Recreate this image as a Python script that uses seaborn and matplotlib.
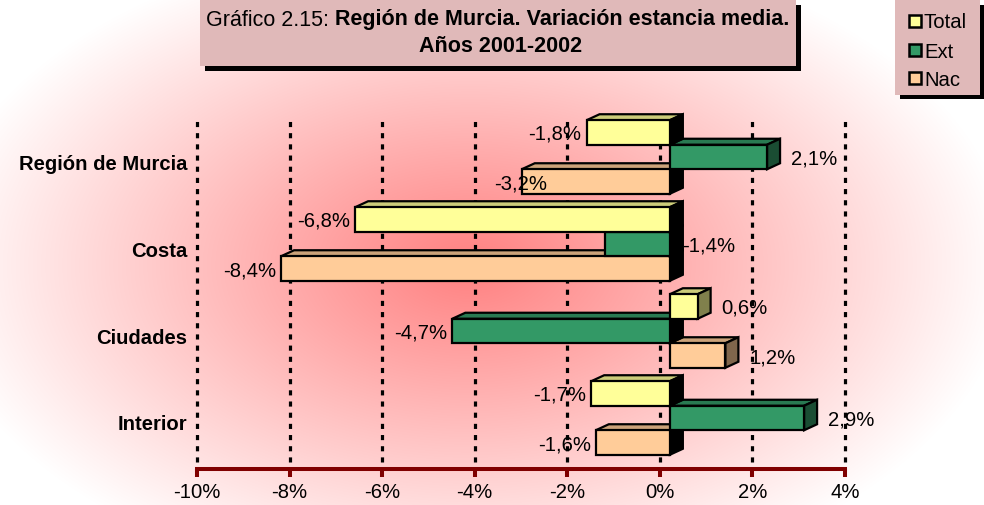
import numpy as np
import pandas as pd
import matplotlib
matplotlib.use('Agg')
import matplotlib.pyplot as plt
import seaborn as sns
from matplotlib.patches import Polygon, Rectangle
from matplotlib.transforms import offset_copy, IdentityTransform

# ---------------- data ----------------
categories = ['Región de Murcia', 'Costa', 'Ciudades', 'Interior']
series = ['Total', 'Ext', 'Nac']
total = [-1.8, -6.8, 0.6, -1.7]
ext = [2.1, -1.4, -4.7, 2.9]
nac = [-3.2, -8.4, 1.2, -1.6]
xticks = [-10, -8, -6, -4, -2, 0, 2, 4]
title_light = 'Gráfico 2.15: '
title_bold = 'Región de Murcia. Variación estancia media.'
title_line2 = 'Años 2001-2002'

# ---------------- style ----------------
front_col = {'Total': '#FFFF99', 'Ext': '#339966', 'Nac': '#FFCC99'}
top_col = {'Total': '#CCCC7A', 'Ext': '#297A52', 'Nac': '#CCA37A'}
side_col = {'Total': '#80804C', 'Ext': '#1A4D33', 'Nac': '#80664C'}
AXIS_RED = '#800000'
FS = 14.6
LW = 1.6

W, H = 984, 505
sns.set_theme(style='white')
plt.rcParams['font.family'] = ['Liberation Sans', 'DejaVu Sans']
plt.rcParams['text.color'] = 'black'
plt.rcParams['xtick.color'] = AXIS_RED
plt.rcParams['xtick.labelcolor'] = 'black'
plt.rcParams['ytick.labelcolor'] = 'black'
plt.rcParams['xtick.bottom'] = True

fig = plt.figure(figsize=(W / 100, H / 100), dpi=100)


def fx(px):
    return px / W


def fy(py):
    return 1 - py / H


# background radial gradient
bg = fig.add_axes([0, 0, 1, 1], zorder=-10)
yy, xx = np.mgrid[0:H, 0:W]
r = np.sqrt(((xx - 470) / 540.0) ** 2 + ((yy - 265) / 330.0) ** 2)
t = np.clip(1 - r, 0, 1)
img = np.ones((H, W, 3))
img[..., 1] = 1 - t * (127 / 255)
img[..., 2] = 1 - t * (127 / 255)
bg.imshow(img, aspect='auto', interpolation='bilinear')
bg.set_axis_off()

# main axes
ax_top, ax_bot = 113, 469
ax = fig.add_axes([fx(197), fy(ax_bot), fx(845) - fx(197), (ax_bot - ax_top) / H])
ax.patch.set_alpha(0)

df = pd.DataFrame({
    'cat': categories * 3,
    'serie': ['Total'] * 4 + ['Ext'] * 4 + ['Nac'] * 4,
    'val': total + ext + nac,
})

sns.barplot(data=df, x='val', y='cat', hue='serie', hue_order=series,
            order=categories, orient='h', palette=front_col, saturation=1,
            width=0.845, edgecolor='black', linewidth=LW, legend=False,
            errorbar=None, ax=ax)

ax.set_xlim(-10, 4)
ax.set_ylim(3 + (ax_bot - 423) / 87.0, 0 - (162 - ax_top) / 87.0)
ax.set_xticks(xticks)
ax.set_xticklabels([f'{v}%' for v in xticks])
ax.set_xlabel('')
ax.set_ylabel('')
for s in ['left', 'top', 'right']:
    ax.spines[s].set_visible(False)
ax.spines['bottom'].set_color(AXIS_RED)
ax.spines['bottom'].set_linewidth(2.9)
ax.spines['bottom'].set_zorder(20)
ax.tick_params(axis='x', bottom=True, direction='out', length=6, width=2.9,
               color=AXIS_RED, pad=4, labelsize=FS, labelcolor='black')
ax.tick_params(axis='y', left=False, length=0, pad=7, labelsize=FS,
               labelcolor='black')
for lab in ax.get_yticklabels():
    lab.set_fontweight('bold')

# dotted gridlines
for xv in xticks:
    ax.axvline(xv, ymin=0.02, ymax=0.989, color='black', lw=2.3,
               linestyle=(0, (1.6, 1.9)), zorder=0.5, clip_on=False)

# 3D bars
fig.canvas.draw()
off = offset_copy(ax.transData, fig=fig, x=10, y=5, units='dots')
DDX, DDY = 13, 6
base_z = {'Total': 6, 'Ext': 4, 'Nac': 2}
label_nudge = {('Región de Murcia', 'Nac'): 30, ('Costa', 'Ext'): None}

for si, serie in enumerate(series):
    cont = ax.containers[si]
    vals = df[df.serie == serie].val.values
    for ci, p in enumerate(cont.patches):
        v = vals[ci]
        cat = categories[ci]
        z = base_z[serie]
        p.set_transform(off)
        p.set_zorder(z + 1)
        x0, y0 = p.get_x(), p.get_y()
        w, h = p.get_width(), p.get_height()
        pts = off.transform([(x0, y0), (x0 + w, y0 + h)])
        xl, xr = min(pts[:, 0]), max(pts[:, 0])
        yb, yt = min(pts[:, 1]), max(pts[:, 1])
        topf = Polygon([(xl, yt), (xr, yt), (xr + DDX, yt + DDY), (xl + DDX, yt + DDY)],
                       closed=True, facecolor=top_col[serie], edgecolor='black',
                       linewidth=LW, transform=IdentityTransform(), zorder=z,
                       clip_on=False)
        sc = side_col[serie] if v > 0 else 'black'
        sidef = Polygon([(xr, yb), (xr, yt), (xr + DDX, yt + DDY), (xr + DDX, yb + DDY)],
                        closed=True, facecolor=sc, edgecolor='black', linewidth=LW,
                        transform=IdentityTransform(), zorder=z, clip_on=False)
        ax.add_patch(topf)
        ax.add_patch(sidef)
        # labels
        txt = f'{v:.1f}'.replace('.', ',') + '%'
        yc = (yb + yt) / 2
        key = (cat, serie)
        if key in label_nudge and label_nudge[key] is None:
            xpos, ha = xr + 12, 'left'
        elif v > 0:
            xpos, ha = xr + 24, 'left'
        else:
            xpos, ha = xl - 5 + label_nudge.get(key, 0), 'right'
        ax.text(xpos, yc, txt, transform=IdentityTransform(), ha=ha,
                va='center_baseline', fontsize=FS, color='black', zorder=30,
                clip_on=False)

# title box
def prect(x0, y0, x1, y1, **kw):
    return Rectangle((fx(x0), fy(y1)), fx(x1) - fx(x0), (y1 - y0) / H,
                     transform=fig.transFigure, **kw)

fig.add_artist(prect(205, 5, 801, 71, facecolor='black', edgecolor='none', zorder=1))
fig.add_artist(prect(200, -5, 796, 66, facecolor='#E0B9B9', edgecolor='none', zorder=2))
renderer = fig.canvas.get_renderer()
t1 = fig.text(0, fy(20), title_light, fontsize=15.5, ha='left', va='center',
              color='black', zorder=3)
t2 = fig.text(0, fy(20), title_bold, fontsize=15.5, fontweight='bold', ha='left',
              va='center', color='black', zorder=3)
w1 = t1.get_window_extent(renderer).width
w2 = t2.get_window_extent(renderer).width
start = 498 - (w1 + w2) / 2
t1.set_x(fx(start))
t2.set_x(fx(start + w1))
fig.text(fx(501), fy(46), title_line2, fontsize=15.5, fontweight='bold',
         ha='center', va='center', color='black', zorder=3)

# legend
fig.add_artist(prect(900, 5, 985, 99, facecolor='black', edgecolor='none', zorder=1))
fig.add_artist(prect(895, -5, 980, 95, facecolor='#E0B9B9', edgecolor='none', zorder=2))
for i, serie in enumerate(series):
    yc = [21, 50, 78][i]
    fig.add_artist(prect(909, yc - 6, 921, yc + 6, facecolor=front_col[serie],
                         edgecolor='black', linewidth=1.8, zorder=3))
    fig.text(fx(924), fy(yc), serie, fontsize=FS, ha='left', va='center_baseline',
             color='black', zorder=3)

fig.savefig('out.png', dpi=100)
